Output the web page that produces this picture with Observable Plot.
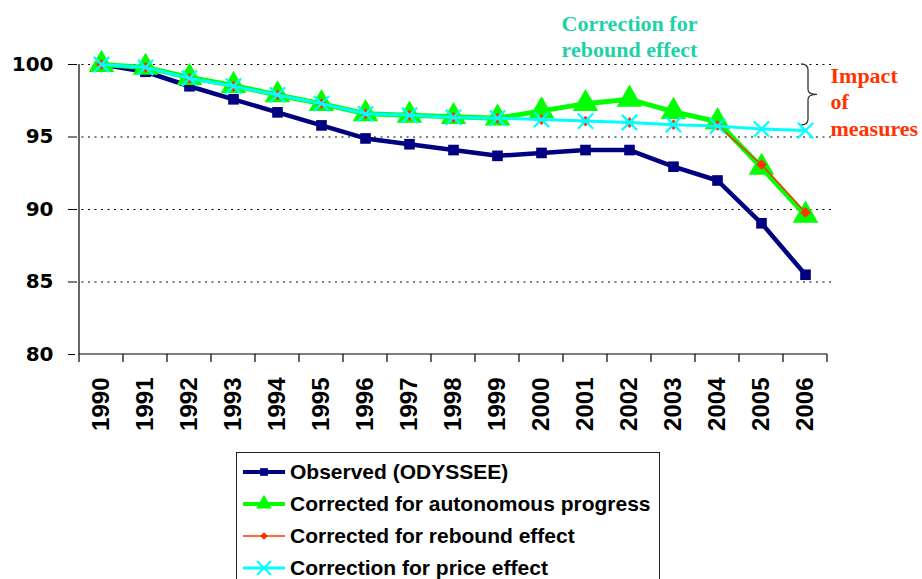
<!DOCTYPE html>
<html>
<head>
<meta charset="utf-8">
<script src="https://cdn.jsdelivr.net/npm/d3@7"></script>
<script src="https://cdn.jsdelivr.net/npm/@observablehq/plot@0.6"></script>
<style>
  html, body { margin: 0; padding: 0; background: #fff; overflow: hidden; }
  body { width: 922px; height: 579px; font-family: Arial, "Liberation Sans", sans-serif; }
  #chart svg { display: block; }
  #legend { position: absolute; left: 236px; top: 452px; width: 424px; height: 140px;
    border: 1px solid #222; box-sizing: border-box; background: #fff; padding-top: 3px; }
  .row { display: flex; align-items: center; height: 32px; }
  .row svg { margin-left: 5px; margin-right: 4px; }
  .row span { font-size: 21px; font-weight: bold; color: #000; white-space: nowrap; }
</style>
</head>
<body>
<div id="chart"></div>
<div id="legend"></div>
<script>
const years = ["1990","1991","1992","1993","1994","1995","1996","1997","1998","1999","2000","2001","2002","2003","2004","2005","2006"];
const observed   = [100, 99.5, 98.5, 97.6, 96.7, 95.8, 94.9, 94.5, 94.1, 93.7, 93.9, 94.1, 94.1, 92.95, 92.0, 89.05, 85.5];
const autonomous = [100, 99.8, 99.1, 98.55, 97.9, 97.3, 96.6, 96.5, 96.4, 96.3, 96.8, 97.3, 97.6, 96.75, 96.05, 92.9, 89.6];
const rebound    = [100, 99.8, 99.05, 98.5, 97.9, 97.3, 96.6, 96.5, 96.35, 96.3, 96.2, 96.1, 96.0, 95.85, 95.8, 93.1, 89.8];
const price      = [100, 99.8, 99.05, 98.5, 97.9, 97.3, 96.6, 96.5, 96.35, 96.3, 96.2, 96.1, 96.0, 95.85, 95.75, 95.55, 95.45];
const yTicks = [80, 85, 90, 95, 100];
const gridValues = [85, 90, 95, 100];
const seriesNames = ["Observed (ODYSSEE)", "Corrected for autonomous progress", "Corrected for rebound effect", "Correction for price effect"];
const annotTop = "Correction for\nrebound effect";
const annotRight = "Impact\nof\nmeasures";
const braceRange = [100, 95.8];

const C = { obs: "#000080", auto: "#00FF00", reb: "#FF3300", price: "#00FFFF", teal: "#1ED2A6", red: "#FF3300" };

const toRows = arr => years.map((y, i) => ({year: y, value: arr[i]}));
const dObs = toRows(observed), dAuto = toRows(autonomous), dReb = toRows(rebound), dPrice = toRows(price);

const FONT = "Arial, 'Liberation Sans', sans-serif";
const SERIF = "'Times New Roman', 'Liberation Serif', serif";

function frameMark(index, scales, values, dims) {
  const x = scales.x, y = scales.y;
  const bw = x(years[1]) - x(years[0]);
  const xl = x(years[0]), xr = x(years[years.length - 1]) + bw;
  const yb = y(80), yt = y(100);
  const g = d3.create("svg:g").attr("fill", "none").attr("stroke", "#000").attr("stroke-width", 1.2);
  g.append("line").attr("x1", xl).attr("x2", xl).attr("y1", yt).attr("y2", yb);
  g.append("line").attr("x1", xl).attr("x2", xr).attr("y1", yb).attr("y2", yb);
  for (let i = 0; i <= years.length; i++) {
    const xx = i < years.length ? x(years[i]) : xr;
    g.append("line").attr("x1", xx).attr("x2", xx).attr("y1", yb).attr("y2", yb + 8);
  }
  // brace
  const xc = x(years[years.length - 1]) + bw / 2;
  const xe = xc - 4, xs = xc + 3, xt = xc + 12;
  const y1 = y(braceRange[0]), y2 = y(braceRange[1]), ym = (y1 + y2) / 2;
  g.append("path").attr("stroke", "#333").attr("stroke-width", 1.3)
    .attr("d", `M${xe},${y1} Q${xs},${y1} ${xs},${y1 + 6} L${xs},${ym - 5} Q${xs},${ym} ${xt},${ym} Q${xs},${ym} ${xs},${ym + 5} L${xs},${y2 - 6} Q${xs},${y2} ${xe},${y2}`);
  return g.node();
}

const chart = Plot.plot({
  width: 922,
  height: 440,
  marginLeft: 75,
  marginRight: 91,
  marginTop: 64,
  marginBottom: 86,
  style: { fontFamily: FONT, fontWeight: "bold", fontSize: "24px", color: "#000", background: "#fff", overflow: "visible" },
  x: { type: "band", domain: years, padding: 0, tickSize: 0, tickPadding: 23, tickRotate: -90, label: null },
  y: { domain: [80, 100], ticks: yTicks, tickSize: 7, tickPadding: 15, tickFormat: d => String(d), label: null },
  marks: [
    Plot.ruleY(gridValues, { stroke: "#000", strokeWidth: 1.2, strokeDasharray: "2,4.5" }),
    frameMark,
    Plot.line(dObs, { x: "year", y: "value", stroke: C.obs, strokeWidth: 4.5 }),
    Plot.dot(dObs, { x: "year", y: "value", symbol: "square", r: 6, fill: C.obs }),
    Plot.line(dAuto, { x: "year", y: "value", stroke: C.auto, strokeWidth: 5 }),
    Plot.dot(dAuto, { x: "year", y: "value", symbol: "triangle", r: 9.5, fill: C.auto }),
    Plot.line(dReb, { x: "year", y: "value", stroke: C.reb, strokeWidth: 1.5 }),
    Plot.dot(dReb, { x: "year", y: "value", symbol: "square", rotate: 45, r: 4.3, fill: C.reb }),
    Plot.line(dPrice, { x: "year", y: "value", stroke: C.price, strokeWidth: 3 }),
    Plot.dot(dPrice, { x: "year", y: "value", symbol: "times", r: 7, stroke: C.price, strokeWidth: 2.2 }),
    Plot.text([annotTop], { x: () => "2002", y: () => 102.0, text: d => d, fill: C.teal, fontFamily: SERIF, fontSize: 22, fontWeight: "bold", lineHeight: 1.2 }),
    Plot.text([annotRight], { x: () => "2006", y: () => 97.5, text: d => d, fill: C.red, fontFamily: SERIF, fontSize: 22, fontWeight: "bold", textAnchor: "start", dx: 25, lineHeight: 1.2 })
  ]
});
d3.select(chart).selectAll('[aria-label^="y-axis"] text').style("font-size", "20px").style("font-family", "'DejaVu Sans', sans-serif");
document.getElementById("chart").appendChild(chart);

// Legend
const legendSpec = [
  { name: seriesNames[0], stroke: C.obs, sw: 4, symbol: d3.symbolSquare, size: 60, fill: C.obs },
  { name: seriesNames[1], stroke: C.auto, sw: 4, symbol: d3.symbolTriangle, size: 110, fill: C.auto },
  { name: seriesNames[2], stroke: C.reb, sw: 1.5, symbol: d3.symbolSquare, size: 30, fill: C.reb, rot: 45 },
  { name: seriesNames[3], stroke: C.price, sw: 3, symbol: d3.symbolTimes, size: 130, fill: "none", st: C.price }
];
const legend = d3.select("#legend");
legendSpec.forEach(s => {
  const row = legend.append("div").attr("class", "row");
  const svg = row.append("svg").attr("width", 44).attr("height", 24);
  svg.append("line").attr("x1", 1).attr("x2", 43).attr("y1", 12).attr("y2", 12).attr("stroke", s.stroke).attr("stroke-width", s.sw);
  svg.append("path").attr("d", d3.symbol(s.symbol, s.size)())
    .attr("transform", `translate(22,12) rotate(${s.rot || 0})`)
    .attr("fill", s.fill).attr("stroke", s.st || "none").attr("stroke-width", s.st ? 2 : 0);
  row.append("span").text(s.name);
});
</script>
</body>
</html>
